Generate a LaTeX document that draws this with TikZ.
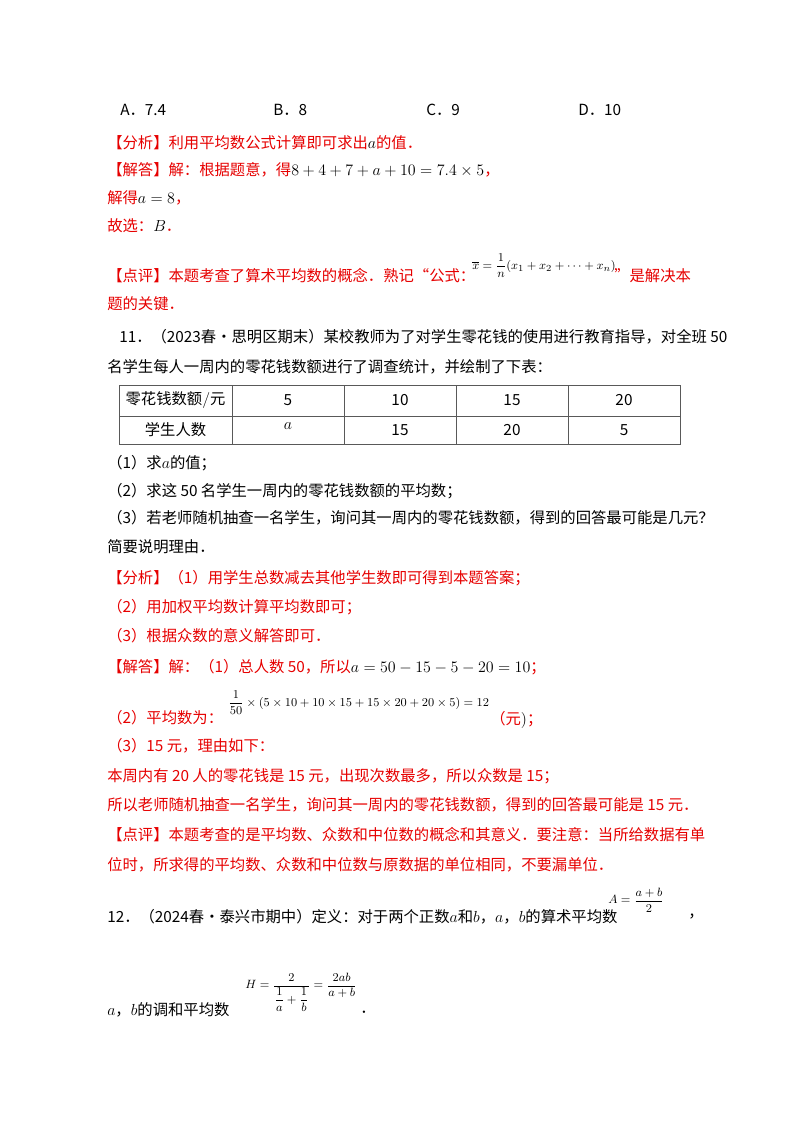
\documentclass[tikz,border=0pt]{standalone}
\usepackage{amsmath}
\usepackage{fontspec}
\setmainfont{Liberation Serif}
\newfontfamily\cjk{Noto Sans CJK SC}
\definecolor{red1}{RGB}{230,0,0}
\tikzset{t/.style={anchor=west,inner sep=0pt,font=\fontsize{11.5}{14}\selectfont\cjk},
 r/.style={t,text=red1},
 m/.style={anchor=west,inner sep=0pt,font=\fontsize{9.5}{12}\selectfont}}
\begin{document}
\begin{tikzpicture}[x=0.75pt,y=-0.75pt]
\useasboundingbox (0,0) rectangle (800,1132);
\node[t] (a1) at (120,110) {A．7.4};
\node[t] (a2) at (273,110) {B．8};
\node[t] (a3) at (426,110) {C．9};
\node[t] (a4) at (578,110) {D．10};
\node[r] (l2) at (107,143) {【分析】利用平均数公式计算即可求出{\color{black}$a$}的值．};
\node[r] (l3) at (107,170) {【解答】解：根据题意，得{\color{black}$8+4+7+a+10=7.4\times5$}，};
\node[r] (l4) at (107,198) {解得{\color{black}$a=8$}，};
\node[r] (l5) at (107,226) {故选：{\color{black}$B$}．};
\node[r] (l6) at (107,276) {【点评】本题考查了算术平均数的概念．熟记“公式：};
\node[m] (f1) at (472,266) {$\overline{x}=\dfrac{1}{n}(x_1+x_2+\cdots+x_n)$};
\node[r] (l6b) at (614,276) {”是解决本};
\node[r] (l7) at (107,304) {题的关键．};
\node[t] (l8) at (119,337) {11．（2023春•思明区期末）某校教师为了对学生零花钱的使用进行教育指导，对全班 50};
\node[t] (l9) at (107,367) {名学生每人一周内的零花钱数额进行了调查统计，并绘制了下表：};
% table
\draw[gray!70!black,line width=0.6pt] (119,385) rectangle (680,444);
\draw[gray!70!black,line width=0.6pt] (119,416) -- (680,416);
\foreach \x in {232,344,456,568} \draw[gray!70!black,line width=0.6pt] (\x,385) -- (\x,444);
\tikzset{c/.style={inner sep=0pt,font=\fontsize{11.5}{14}\selectfont\cjk}}
\node[c] (h0) at (175.5,400) {零花钱数额$/$元};
\node[c] (h1) at (288,400) {5};
\node[c] (h2) at (400,400) {10};
\node[c] (h3) at (512,400) {15};
\node[c] (h4) at (624,400) {20};
\node[c] (r0) at (175.5,430) {学生人数};
\node[c] (r1) at (288,426) {$a$};
\node[c] (r2) at (400,430) {15};
\node[c] (r3) at (512,430) {20};
\node[c] (r4) at (624,430) {5};
\node[t] (q1) at (107,463) {（1）求$a$的值；};
\node[t] (q2) at (107,491) {（2）求这 50 名学生一周内的零花钱数额的平均数；};
\node[t] (q3) at (107,518) {（3）若老师随机抽查一名学生，询问其一周内的零花钱数额，得到的回答最可能是几元？};
\node[t] (q4) at (107,547) {简要说明理由．};
\node[r] (s1) at (107,578) {【分析】（1）用学生总数减去其他学生数即可得到本题答案；};
\node[r] (s2) at (107,607) {（2）用加权平均数计算平均数即可；};
\node[r] (s3) at (107,636) {（3）根据众数的意义解答即可．};
\node[r] (s4) at (107,667) {【解答】解：（1）总人数 50，所以{\color{black}$a=50-15-5-20=10$}；};
\node[r] (s5) at (107,718) {（2）平均数为：};
\node[m] (f2) at (228,703) {$\dfrac{1}{50}\times(5\times10+10\times15+15\times20+20\times5)=12$};
\node[r] (s5b) at (490,720) {（元{\color{black}$)$}；};
\node[r] (s6) at (107,746) {（3）15 元，理由如下：};
\node[r] (s7) at (107,776) {本周内有 20 人的零花钱是 15 元，出现次数最多，所以众数是 15；};
\node[r] (s8) at (107,805) {所以老师随机抽查一名学生，询问其一周内的零花钱数额，得到的回答最可能是 15 元．};
\node[r] (s9) at (107,835) {【点评】本题考查的是平均数、众数和中位数的概念和其意义．要注意：当所给数据有单};
\node[r] (s10) at (107,865) {位时，所求得的平均数、众数和中位数与原数据的单位相同，不要漏单位．};
\node[t] (p1) at (107,917) {12．（2024春•泰兴市期中）定义：对于两个正数$a$和$b$，$a$，$b$的算术平均数};
\node[m] (f3) at (608,900) {$A=\dfrac{a+b}{2}$};
\node[t] (p1b) at (688,917) {，};
\node[m] (f4) at (245,992) {$H=\dfrac{2}{\dfrac{1}{a}+\dfrac{1}{b}}=\dfrac{2ab}{a+b}$};
\node[t] (p2) at (107,1010) {$a$，$b$的调和平均数};
\node[t] (p2b) at (360,1012) {．};
\end{tikzpicture}
\end{document}
